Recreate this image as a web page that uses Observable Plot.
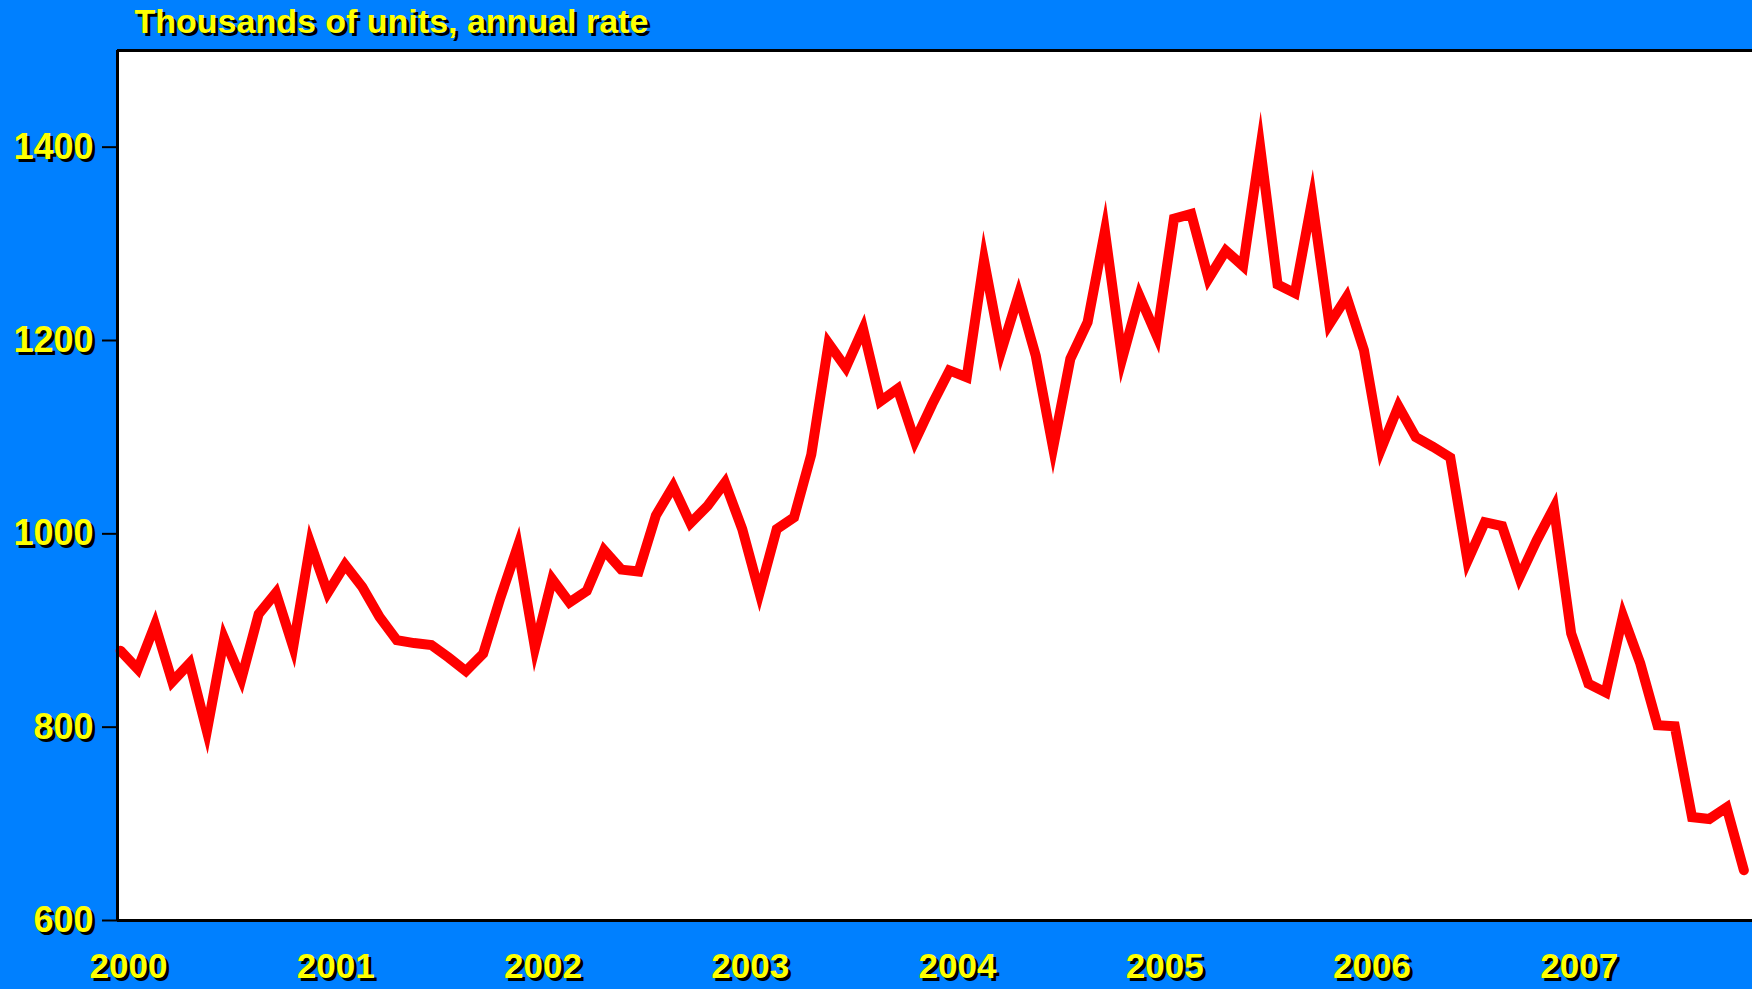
<!DOCTYPE html>
<html>
<head>
<meta charset="utf-8">
<script src="https://cdn.jsdelivr.net/npm/d3@7"></script>
<script src="https://cdn.jsdelivr.net/npm/@observablehq/plot@0.6"></script>
<style>
  html, body { margin: 0; padding: 0; background: #0080FF; overflow: hidden; }
</style>
</head>
<body>
<div id="chart"></div>
<script>
// ---- data (monthly, Jan 2000 – Nov 2007) ----
const title = "Thousands of units, annual rate";
const yearLabels = ["2000", "2001", "2002", "2003", "2004", "2005", "2006", "2007"];
const yTicks = [600, 800, 1000, 1200, 1400];
const values2000 = [879, 860, 906, 847, 866, 796, 892, 850, 917, 939, 883, 990];
const values2001 = [939, 968, 945, 914, 890, 887, 885, 872, 858, 876, 934, 987];
const values2002 = [882, 953, 929, 941, 983, 963, 961, 1019, 1049, 1011, 1029, 1053];
const values2003 = [1005, 939, 1005, 1017, 1082, 1197, 1172, 1212, 1137, 1150, 1096, 1134];
const values2004 = [1169, 1162, 1283, 1189, 1247, 1184, 1089, 1181, 1219, 1313, 1181, 1246];
const values2005 = [1205, 1326, 1331, 1264, 1293, 1277, 1399, 1258, 1249, 1345, 1217, 1245];
const values2006 = [1190, 1088, 1132, 1100, 1090, 1079, 972, 1012, 1008, 955, 993, 1027];
const values2007 = [897, 845, 836, 915, 866, 802, 801, 707, 705, 717, 652];

const values = [].concat(values2000, values2001, values2002, values2003,
                         values2004, values2005, values2006, values2007);
const data = values.map((v, i) => ({month: i, value: v}));
const xTicks = yearLabels.map((_, k) => k * 12);

const font = "'Liberation Sans', Arial, Helvetica, sans-serif";
const yellow = "#FFFF00";
const xMin = -0.174, xMax = 94.5;

const yLabelStyle = {fontSize: 36, fontWeight: "bold"};
const xLabelStyle = {fontSize: 35, fontWeight: "bold"};

const chart = Plot.plot({
  width: 1752,
  height: 989,
  marginLeft: 117,
  marginRight: 0,
  marginTop: 50,
  marginBottom: 69,
  style: {background: "#0080FF", fontFamily: font, overflow: "visible"},
  x: {type: "linear", domain: [xMin, xMax], axis: null},
  y: {domain: [600, 1500], axis: null},
  marks: [
    Plot.frame({fill: "white", stroke: null}),
    Plot.line(data, {
      x: "month", y: "value",
      stroke: "#FF0000", strokeWidth: 10,
      strokeLinejoin: "miter", strokeMiterlimit: 12, strokeLinecap: "round"
    }),
    // frame borders (left, top, bottom)
    Plot.ruleY([600, 1500], {stroke: "black", strokeWidth: 3}),
    Plot.ruleX([xMin], {stroke: "black", strokeWidth: 3}),
    // y axis ticks
    Plot.axisY(yTicks, {anchor: "left", tickSize: 15, tickFormat: () => "", label: null,
      stroke: "black", strokeWidth: 2}),
    // y axis labels with drop shadow
    Plot.axisY(yTicks, {anchor: "left", tickSize: 0, tickPadding: 24, tickFormat: "d", label: null,
      fill: "black", dx: 3, dy: 3, ...yLabelStyle}),
    Plot.axisY(yTicks, {anchor: "left", tickSize: 0, tickPadding: 24, tickFormat: "d", label: null,
      fill: yellow, ...yLabelStyle}),
    // x axis labels with drop shadow
    Plot.axisX(xTicks, {anchor: "bottom", tickSize: 0, tickPadding: 33, label: null,
      tickFormat: d => yearLabels[d / 12], fill: "black", dx: 11, dy: 3, ...xLabelStyle}),
    Plot.axisX(xTicks, {anchor: "bottom", tickSize: 0, tickPadding: 33, label: null,
      tickFormat: d => yearLabels[d / 12], fill: yellow, dx: 8, ...xLabelStyle}),
    // title with drop shadow
    Plot.text([title], {frameAnchor: "top-left", textAnchor: "start", lineAnchor: "top",
      dx: 20, dy: -39, fill: "black", fontSize: 34, fontWeight: "bold"}),
    Plot.text([title], {frameAnchor: "top-left", textAnchor: "start", lineAnchor: "top",
      dx: 17, dy: -42, fill: yellow, fontSize: 34, fontWeight: "bold"})
  ]
});
document.getElementById("chart").appendChild(chart);
</script>
</body>
</html>
